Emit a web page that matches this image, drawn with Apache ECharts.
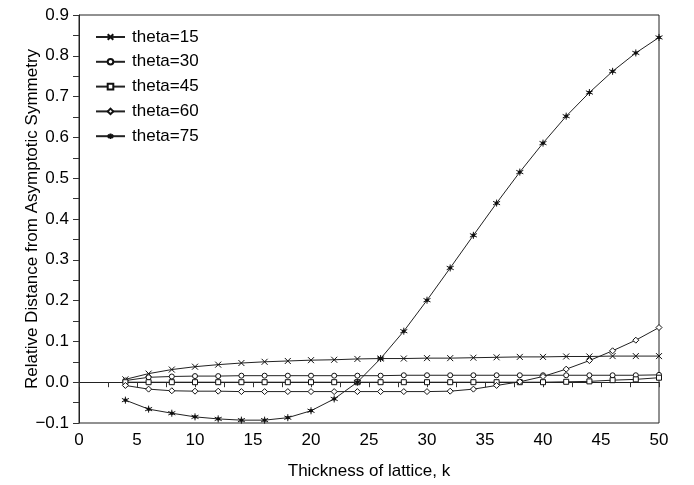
<!DOCTYPE html>
<html>
<head>
<meta charset="utf-8">
<script src="https://cdn.jsdelivr.net/npm/echarts@6/dist/echarts.min.js"></script>
<style>html,body{margin:0;padding:0;background:#fff}#c{width:694px;height:485px}</style>
</head>
<body>
<div id="c"></div>
<script>
const kValues = [4,6,8,10,12,14,16,18,20,22,24,26,28,30,32,34,36,38,40,42,44,46,48,50];
const theta15 = [0.007,0.021,0.031,0.038,0.043,0.047,0.050,0.052,0.054,0.055,0.057,0.058,0.058,0.059,0.059,0.060,0.061,0.062,0.062,0.063,0.063,0.064,0.064,0.064];
const theta30 = [0.004,0.012,0.014,0.015,0.015,0.016,0.016,0.016,0.016,0.016,0.016,0.016,0.017,0.017,0.017,0.017,0.017,0.017,0.017,0.017,0.017,0.017,0.017,0.018];
const theta45 = [0.000,0.000,0.000,0.000,0.000,0.000,0.000,0.000,0.000,0.000,0.000,0.000,0.000,0.000,0.000,0.000,0.000,0.000,0.000,0.001,0.002,0.005,0.007,0.011];
const theta60 = [-0.008,-0.017,-0.021,-0.022,-0.022,-0.023,-0.023,-0.023,-0.023,-0.023,-0.023,-0.023,-0.023,-0.023,-0.022,-0.017,-0.008,0.001,0.014,0.032,0.053,0.077,0.103,0.134];
const theta75 = [-0.044,-0.066,-0.076,-0.085,-0.090,-0.093,-0.093,-0.087,-0.070,-0.041,0.000,0.058,0.125,0.201,0.280,0.360,0.439,0.515,0.586,0.652,0.710,0.762,0.807,0.845];
const seriesNames = ['theta=15','theta=30','theta=45','theta=60','theta=75'];
const yTicks = {min:-0.1, max:0.9, step:0.1};
const xTicks = {min:0, max:50, step:5};

const allData = [theta15, theta30, theta45, theta60, theta75];
const symbols = [
  'path://M0,0L10,10M10,0L0,10',
  'circle',
  'rect',
  'path://M5,0L10,5L5,10L0,5Z',
  'path://M5,0L5,10M0.7,2.5L9.3,7.5M0.7,7.5L9.3,2.5M3.5,3.5L6.5,3.5L6.5,6.5L3.5,6.5Z'
];
const sizes = [6,5,5,6,7];
const font = 'Liberation Sans, Arial, Helvetica, sans-serif';

const series = allData.map((arr, i) => ({
  name: seriesNames[i],
  type: 'line',
  data: kValues.map((k, j) => [k, arr[j]]),
  symbol: symbols[i],
  symbolSize: sizes[i],
  showAllSymbol: true,
  lineStyle: {color: '#222', width: 1},
  itemStyle: {color: i === 4 ? '#000' : '#fff', borderColor: '#111', borderWidth: 1},
  emphasis: {disabled: true},
  animation: false,
  z: 2 + i
}));

const chart = echarts.init(document.getElementById('c'), null, {renderer: 'canvas'});
chart.setOption({
  backgroundColor: '#fff',
  animation: false,
  grid: {left: 79, right: 35, top: 15, bottom: 62, show: true, borderColor: '#222', borderWidth: 1, backgroundColor: 'transparent'},
  legend: {
    orient: 'vertical',
    left: 95,
    top: 28.5,
    padding: 0,
    itemWidth: 29,
    itemHeight: 7,
    itemGap: 7.8,
    data: seriesNames,
    textStyle: {fontFamily: font, fontSize: 17, lineHeight: 17, color: '#000', padding: [0,0,0,2]},
    inactiveColor: '#000'
  },
  xAxis: {
    type: 'value',
    min: xTicks.min, max: xTicks.max, interval: xTicks.step,
    name: 'Thickness of lattice, k',
    nameLocation: 'middle',
    nameGap: 40,
    nameMoveOverlap: false,
    nameTextStyle: {fontFamily: font, fontSize: 17, color: '#000'},
    axisLine: {show: true, lineStyle: {color: '#222', width: 1}},
    axisTick: {show: true, inside: false, length: 5, lineStyle: {color: '#333'}},
    minorTick: {show: true, splitNumber: 2, length: 5, lineStyle: {color: '#333'}},
    axisLabel: {fontFamily: font, fontSize: 17, color: '#000', margin: 9},
    splitLine: {show: false}
  },
  yAxis: {
    type: 'value',
    min: yTicks.min, max: yTicks.max, interval: yTicks.step,
    name: 'Relative Distance from Asymptotic Symmetry',
    nameLocation: 'middle',
    nameGap: 38,
    nameMoveOverlap: false,
    nameTextStyle: {fontFamily: font, fontSize: 17, color: '#000'},
    axisLine: {show: true, lineStyle: {color: '#222', width: 1}},
    axisTick: {show: true, inside: false, length: 6, lineStyle: {color: '#333'}},
    minorTick: {show: true, splitNumber: 2, length: 6, lineStyle: {color: '#333'}},
    axisLabel: {fontFamily: font, fontSize: 17, color: '#000', margin: 10,
      formatter: v => { const s = Math.abs(v).toFixed(1); return (v < -1e-9 ? '\u2212' : '') + s; }},
    splitLine: {show: false}
  },
  series: series
});
</script>
</body>
</html>
